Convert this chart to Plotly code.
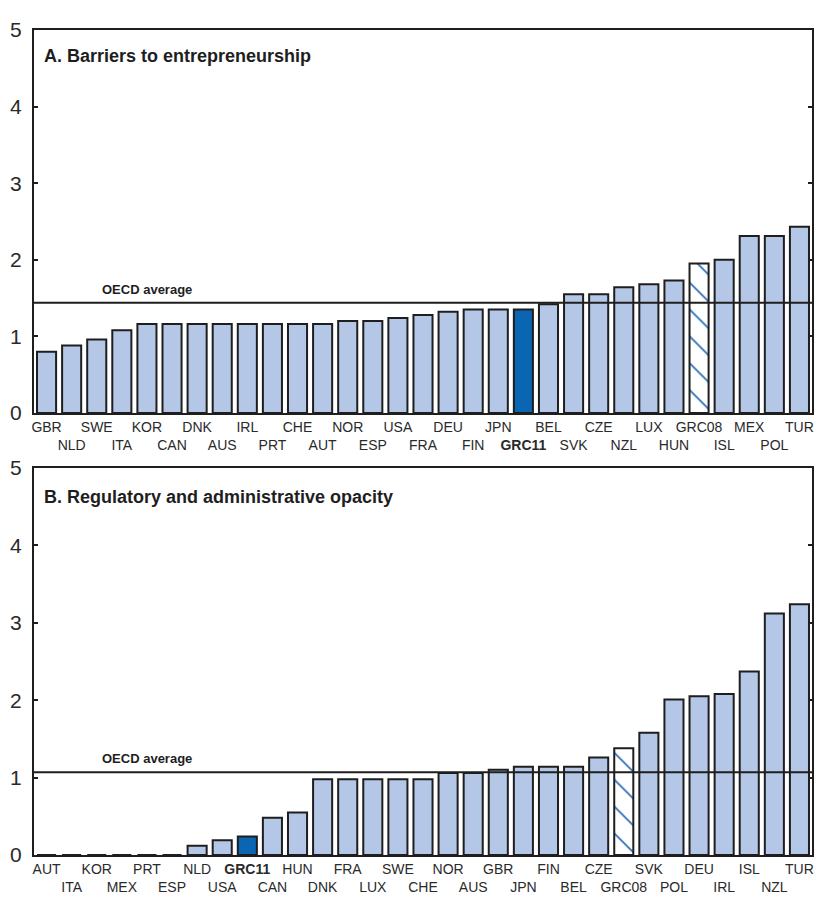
import plotly.graph_objects as go

# ---------------- data ----------------
countries_a = ["GBR", "NLD", "SWE", "ITA", "KOR", "CAN", "DNK", "AUS", "IRL", "PRT",
               "CHE", "AUT", "NOR", "ESP", "USA", "FRA", "DEU", "FIN", "JPN", "GRC11",
               "BEL", "SVK", "CZE", "NZL", "LUX", "HUN", "GRC08", "ISL", "MEX", "POL", "TUR"]
values_a = [0.80, 0.88, 0.96, 1.08, 1.16, 1.16, 1.16, 1.16, 1.16, 1.16,
            1.16, 1.16, 1.20, 1.20, 1.24, 1.28, 1.32, 1.35, 1.35, 1.35,
            1.42, 1.55, 1.55, 1.64, 1.68, 1.73, 1.95, 2.00, 2.31, 2.31, 2.43]
oecd_avg_a = 1.44

countries_b = ["AUT", "ITA", "KOR", "MEX", "PRT", "ESP", "NLD", "USA", "GRC11", "CAN",
               "HUN", "DNK", "FRA", "LUX", "SWE", "CHE", "NOR", "AUS", "GBR", "JPN",
               "FIN", "BEL", "CZE", "GRC08", "SVK", "POL", "DEU", "IRL", "ISL", "NZL", "TUR"]
values_b = [0.0, 0.0, 0.0, 0.0, 0.0, 0.0, 0.12, 0.19, 0.24, 0.48,
            0.55, 0.98, 0.98, 0.98, 0.98, 0.98, 1.06, 1.06, 1.10, 1.14,
            1.14, 1.14, 1.26, 1.38, 1.58, 2.01, 2.05, 2.08, 2.37, 3.12, 3.24]
oecd_avg_b = 1.07

title_a = "A. Barriers to entrepreneurship"
title_b = "B. Regulatory and administrative opacity"
avg_label = "OECD average"
y_ticks = [0, 1, 2, 3, 4, 5]

# ---------------- style ----------------
FONT = "Liberation Sans, Arial, sans-serif"
LIGHT = "#B4C7E7"
DARK = "#0A66B2"
HATCH = "#2A6DB8"
INK = "#1e1e1e"
TXT = "#2a2a2a"


def bar_style(cats):
    colors, shapes = [], []
    for c in cats:
        if c == "GRC11":
            colors.append(DARK); shapes.append("")
        elif c == "GRC08":
            colors.append(HATCH); shapes.append("\\")   # hatch lines take this colour
        else:
            colors.append(LIGHT); shapes.append("")
    return colors, shapes


def tick_text(cats):
    out = []
    for i, c in enumerate(cats):
        t = "<b>%s</b>" % c if c == "GRC11" else c
        out.append(t if i % 2 == 0 else "<br>" + t)
    return out


fig = go.Figure()

for cats, vals, xa, ya, ya_r in [(countries_a, values_a, "x", "y", "y3"),
                                 (countries_b, values_b, "x2", "y2", "y4")]:
    colors, shapes = bar_style(cats)
    fig.add_trace(go.Bar(
        x=cats, y=vals, xaxis=xa, yaxis=ya,
        marker=dict(color=colors,
                    line=dict(color=INK, width=2),
                    pattern=dict(shape=shapes, fillmode="replace", bgcolor="white",
                                 fgopacity=1, size=19, solidity=0.09)),
        showlegend=False, hoverinfo="x+y"))
    # empty helper trace so the mirrored right-hand value axis is drawn
    fig.add_trace(go.Scatter(x=[cats[0]], y=[None], xaxis=xa, yaxis=ya_r,
                             mode="markers", showlegend=False, hoverinfo="skip"))

top_dom = [0.5358, 1.0]
bot_dom = [0.0, 0.4691]
n_cat = len(countries_a)

axis_common_x = dict(showline=True, linecolor=INK, linewidth=2, mirror=True,
                     range=[-0.5, n_cat - 0.5],
                     ticks="", showgrid=False, zeroline=False, automargin=False,
                     tickfont=dict(family=FONT, size=14, color=TXT),
                     tickangle=0, fixedrange=True)
axis_common_y = dict(range=[0, 5], tickvals=y_ticks, showline=True, linecolor=INK,
                     linewidth=2, mirror="ticks", ticks="inside", ticklen=4, tickwidth=2,
                     tickcolor=INK, showgrid=False, zeroline=False, automargin=False,
                     tickfont=dict(family=FONT, size=21, color=TXT),
                     ticklabelstandoff=6, fixedrange=True)
axis_right = dict(range=[0, 5], tickvals=y_ticks, side="right", automargin=False,
                  showline=False, ticks="", showgrid=False, zeroline=False,
                  tickfont=dict(family=FONT, size=21, color=TXT),
                  ticklabelstandoff=9, fixedrange=True)

# page body adds an 8 px offset; figure sized so that it fills the window
fig.update_layout(
    width=819, height=908,
    margin=dict(l=26, r=15, t=22, b=61),
    paper_bgcolor="white", plot_bgcolor="white",
    bargap=0.24,
    xaxis=dict(axis_common_x, anchor="y", domain=[0, 1],
               tickvals=countries_a, ticktext=tick_text(countries_a)),
    yaxis=dict(axis_common_y, anchor="x", domain=top_dom),
    xaxis2=dict(axis_common_x, anchor="y2", domain=[0, 1],
                tickvals=countries_b, ticktext=tick_text(countries_b)),
    yaxis2=dict(axis_common_y, anchor="x2", domain=bot_dom),
    yaxis3=dict(axis_right, overlaying="y", anchor="x"),
    yaxis4=dict(axis_right, overlaying="y2", anchor="x2"),
)

# OECD average lines (on top of bars)
for avg, xr, yr in [(oecd_avg_a, "x domain", "y"), (oecd_avg_b, "x2 domain", "y2")]:
    fig.add_shape(type="line", xref=xr, yref=yr, x0=0, x1=1, y0=avg, y1=avg,
                  line=dict(color=INK, width=2), layer="above")
    fig.add_annotation(xref=xr, yref=yr, x=0.085, y=avg, text="<b>%s</b>" % avg_label,
                       showarrow=False, xanchor="left", yanchor="bottom", yshift=4,
                       font=dict(family=FONT, size=13, color=INK))

# panel titles
for t, xr, yr, yy in [(title_a, "x domain", "y domain", 0.932),
                      (title_b, "x2 domain", "y2 domain", 0.925)]:
    fig.add_annotation(xref=xr, yref=yr, x=0.0103, y=yy, text="<b>%s</b>" % t,
                       showarrow=False, xanchor="left", yanchor="middle",
                       font=dict(family=FONT, size=18, color=INK))

fig.write_html("out.html")
